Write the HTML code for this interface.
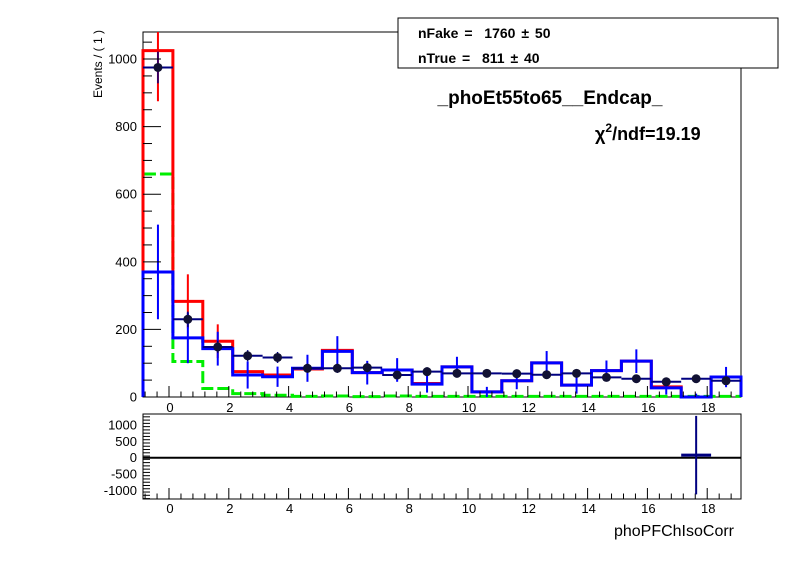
<!DOCTYPE html>
<html><head><meta charset="utf-8"><style>
body{margin:0;background:#fff;}
svg{display:block;font-family:"Liberation Sans",Arial,sans-serif;}
</style></head><body>
<svg id="c" width="796" height="572" viewBox="0 0 796 572"></svg>
<script>
const xEdgesStart = -0.87;
const nBins = 20;
const dataVals = [975,230,148,122,117,85,85,87,65,75,70,70,69,66,70,58,54,45,54,48];
const blueVals = [370,175,143,65,60,85,135,72,80,38,89,15,48,101,35,78,106,27,0,59];
const blueErr = [140,75,50,40,30,40,45,35,35,25,30,15,25,35,25,30,35,20,10,30];
const redVals = [1025,283,165,75,65,83,138,72,80,40,89,15,48,101,35,78,106,30,0,59];
const redErr = [150,80,50,0,0,0,0,0,0,0,0,0,0,0,0,0,0,0,0,0];
const greenVals = [660,105,25,10,5,2,3,1,3,2,2,2,2,2,2,2,2,2,2,2];
const pullVals = [0,0,0,0,0,0,0,0,0,0,0,0,0,0,0,0,0,0,80,0];
const pullErr = [0,0,0,0,0,0,0,0,0,0,0,0,0,0,0,0,0,0,1200,0];
const xTicks = [0,2,4,6,8,10,12,14,16,18];
const yTicks = [0,200,400,600,800,1000];
const pTicks = [-1000,-500,0,500,1000];

const svg=document.getElementById('c');
const NS='http://www.w3.org/2000/svg';
function el(t,a,p){const e=document.createElementNS(NS,t);for(const k in a)e.setAttribute(k,a[k]);(p||svg).appendChild(e);return e;}
const L=143,R=741,T=32,B=397;
const X=v=>L+(v-xEdgesStart)*(R-L)/nBins;
const Y=v=>B-v*(B-T)/1080;
const PT=414,PB=499;
const PY=v=>457.7-v*0.0327;

let f=el('rect',{x:L,y:T,width:R-L,height:B-T,fill:'none',stroke:'#000','stroke-width':1});

f=el('rect',{x:L,y:PT,width:R-L,height:PB-PT,fill:'none',stroke:'#000','stroke-width':1});


function hist(vals,color,dash,name){
  let d='M'+X(xEdgesStart)+','+Y(0);
  vals.forEach((v,i)=>{d+=' L'+X(xEdgesStart+i)+','+Y(v)+' L'+X(xEdgesStart+i+1)+','+Y(v);});
  d+=' L'+X(xEdgesStart+nBins)+','+Y(0);
  const p=el('path',{d:d,fill:'none',stroke:color,'stroke-width':3,'stroke-dasharray':dash||'none'});
  
}
hist(greenVals,'#00ee00','12,4','green-true-hist');
hist(redVals,'#ff0000',null,'red-total-hist');
hist(blueVals,'#0000ff',null,'blue-fake-hist');
redVals.forEach((v,i)=>{if(redErr[i]>0){const c=X(xEdgesStart+i+0.5);
  const l=el('line',{x1:c,x2:c,y1:Y(v-redErr[i]),y2:Y(Math.min(1080,v+redErr[i])),stroke:'#f00','stroke-width':2});
  }});
blueVals.forEach((v,i)=>{const c=X(xEdgesStart+i+0.5);
  const l=el('line',{x1:c,x2:c,y1:Y(Math.max(0,v-blueErr[i])),y2:Y(v+blueErr[i]),stroke:'#00f','stroke-width':2});
  });
dataVals.forEach((v,i)=>{const c=X(xEdgesStart+i+0.5),e=Math.sqrt(v)*1.5;
  const g=el('g',{});
  el('line',{x1:X(xEdgesStart+i),x2:X(xEdgesStart+i+1),y1:Y(v),y2:Y(v),stroke:'#000080','stroke-width':2},g);
  el('line',{x1:c,x2:c,y1:Y(v-e),y2:Y(v+e),stroke:'#000080','stroke-width':1.5},g);
  el('circle',{cx:c,cy:Y(v),r:4.5,fill:'#111133'},g);});

function xAxis(top,bot,ly){
  for(let v=-0.8;v<=19.1;v+=0.4){const x=X(v),major=Math.abs(v/2-Math.round(v/2))<0.01;
    el('line',{x1:x,x2:x,y1:bot,y2:bot-(major?11:5.5),stroke:'#000','stroke-width':1});}
  xTicks.forEach(t=>{const tx=el('text',{x:X(t)+1,y:ly,'font-size':13,'text-anchor':'middle'});tx.textContent=t;
    });
}
xAxis(T,B,412);xAxis(PT,PB,513);
for(let v=0;v<=1080;v+=50){const major=v%200==0;el('line',{x1:L,x2:L+(major?18:9),y1:Y(v),y2:Y(v),stroke:'#000'});}
yTicks.forEach(t=>{const tx=el('text',{x:137,y:Y(t)+4.5,'font-size':13,'text-anchor':'end'});tx.textContent=t;
  });
for(let v=-1250;v<=1250;v+=100){const major=v%500==0;el('line',{x1:L,x2:L+(major?14:7),y1:PY(v),y2:PY(v),stroke:'#000'});}
pTicks.forEach(t=>{const tx=el('text',{x:137,y:PY(t)+4.5,'font-size':13,'text-anchor':'end'});tx.textContent=t;
  });

let z=el('line',{x1:L,x2:R,y1:PY(0),y2:PY(0),stroke:'#000','stroke-width':2});

pullVals.forEach((v,i)=>{if(pullErr[i]>0){const c=X(xEdgesStart+i+0.5);
  const g=el('g',{});
  el('line',{x1:X(xEdgesStart+i),x2:X(xEdgesStart+i+1),y1:PY(v),y2:PY(v),stroke:'#000080','stroke-width':3},g);
  el('line',{x1:c,x2:c,y1:PY(v-pullErr[i]),y2:PY(v+pullErr[i]),stroke:'#000080','stroke-width':2},g);}});

function txt(x,y,s,size,extra,name){const t=el('text',Object.assign({x:x,y:y,'font-size':size},extra||{}));t.innerHTML=s;
  return t;}
txt(102,30,'Events / ( 1 )',12,{'text-anchor':'end',transform:'rotate(-90 102 30)'},'y-axis-title');
txt(734,536,'phoPFChIsoCorr',16,{'text-anchor':'end'},'x-axis-title');
txt(550,104,'_phoEt55to65__Endcap_',19,{'text-anchor':'middle','font-weight':'bold'},'plot-title');
txt(595,140,'χ<tspan dy="-8" font-size="12">2</tspan><tspan dy="8">/ndf=19.19</tspan>',18,{'font-weight':'bold'},'chi2-label');
let lg=el('rect',{x:398,y:18,width:380,height:50,fill:'#fff',stroke:'#000'});

txt(418,38,'nFake =  1760 ± 50',14,{'font-weight':'bold','xml:space':'preserve',style:'white-space:pre;word-spacing:2px'},'legend-nfake');
txt(418,63,'nTrue =  811 ± 40',14,{'font-weight':'bold',style:'white-space:pre;word-spacing:2px'},'legend-ntrue');
</script>
</body></html>
